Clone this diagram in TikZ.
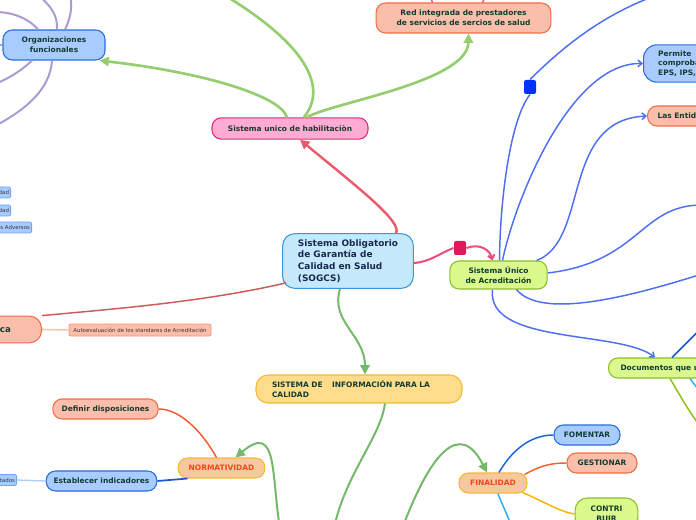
\documentclass[tikz,border=0pt]{standalone}
\usepackage{fontspec}
\setmainfont{DejaVu Sans}
\usetikzlibrary{arrows.meta,calc}

\tikzset{every picture/.style={line width=0.75pt}}
\tikzset{
  topic/.style={rounded corners=7pt, draw, line width=0.8pt, align=center, inner sep=1pt,
    font=\fontsize{5.6}{7.2}\selectfont\bfseries, text={rgb,255:red,18;green,60;blue,48}},
  leaf/.style={rounded corners=1.5pt, draw, line width=0.6pt, inner sep=1.2pt,
    font=\fontsize{4.1}{5}\selectfont, text={rgb,255:red,60;green,50;blue,50}},
  bluebox/.style={fill={rgb,255:red,168;green,204;blue,255}, draw={rgb,255:red,40;green,110;blue,220}},
  salmonbox/.style={fill={rgb,255:red,250;green,190;blue,170}, draw={rgb,255:red,240;green,110;blue,70}},
  pinkbox/.style={fill={rgb,255:red,255;green,172;blue,212}, draw={rgb,255:red,230;green,40;blue,120}},
  greenbox/.style={fill={rgb,255:red,218;green,248;blue,140}, draw={rgb,255:red,140;green,190;blue,40}},
  peachbox/.style={fill={rgb,255:red,246;green,200;blue,160}, draw={rgb,255:red,245;green,185;blue,50},
    text={rgb,255:red,240;green,70;blue,30}},
  yellowbox/.style={fill={rgb,255:red,253;green,220;blue,140}, draw={rgb,255:red,245;green,185;blue,50}},
  mainbox/.style={fill={rgb,255:red,197;green,232;blue,250}, draw={rgb,255:red,60;green,150;blue,215},
    font=\fontsize{6.7}{8.8}\selectfont\bfseries, text={rgb,255:red,25;green,40;blue,80}, rounded corners=9pt},
  blueleaf/.style={fill={rgb,255:red,168;green,204;blue,255}, draw={rgb,255:red,110;green,165;blue,245}},
  salmonleaf/.style={fill={rgb,255:red,250;green,190;blue,170}, draw={rgb,255:red,245;green,150;blue,120}},
  sq/.style={rounded corners=1.5pt, minimum width=9pt, minimum height=10.5pt, inner sep=0pt},
  glink/.style={draw={rgb,255:red,150;green,205;blue,110}, line width=2pt},
  ilink/.style={draw={rgb,255:red,115;green,185;blue,105}, line width=1.5pt},
  rlink/.style={draw={rgb,255:red,235;green,90;blue,105}, line width=1.8pt},
  plink/.style={draw={rgb,255:red,170;green,155;blue,210}, line width=1.5pt},
  pklink/.style={draw={rgb,255:red,235;green,75;blue,120}, line width=1.5pt},
  blink/.style={draw={rgb,255:red,77;green,110;blue,245}, line width=1.1pt},
  tri/.style={-{Triangle[length=7pt,width=7pt]}},
  barb/.style={-{Straight Barb[length=3pt,width=5pt]}}
}

\begin{document}
\begin{tikzpicture}[x=0.75pt,y=0.75pt,yscale=-1,xscale=1]
\useasboundingbox (0,0) rectangle (696,520);
\clip (0,0) rectangle (696,520);

% main topic and branches
\node [topic, mainbox, align=left, minimum width=98pt, minimum height=41pt] (sogcs) at (348,261) {Sistema Obligatorio\\de Garantía de\\Calidad en Salud\\(SOGCS)};
\node [topic, pinkbox, minimum width=117pt, minimum height=16pt] (habil) at (290,128.5) {Sistema unico de habilitaciòn};
\node [topic, bluebox, minimum width=76.5pt, minimum height=22.5pt] (orgs) at (54,45) {Organizaciones\\ funcionales};
\node [topic, salmonbox, minimum width=131pt, minimum height=22.5pt] (redint) at (463.5,18) {Red integrada de prestadores\\de servicios de sercios de salud};
\node [topic, greenbox, minimum width=73pt, minimum height=21pt] (acred) at (498.5,275) {Sistema Único\\de Acreditación};
\node [topic, bluebox, anchor=west, align=left, minimum height=28pt, rounded corners=10pt, inner xsep=11pt] (permite) at (643,63.5) {Permite\\comprobar\\EPS, IPS, EAPB};
\node [topic, salmonbox, anchor=west, minimum height=15pt, inner xsep=7.5pt] (entid) at (647,116) {Las Entidades};
\node [topic, greenbox, anchor=west, minimum height=15pt, inner xsep=9pt] (docs) at (608,368) {Documentos que utiliza};
\node [topic, salmonbox, anchor=east, minimum height=20pt, rounded corners=9pt, font=\fontsize{6.5}{8}\selectfont\bfseries, text width=63pt, align=left, inner xsep=3pt] (ruta) at (42,329.5) {Ruta Crítica};
\node [leaf, salmonleaf, minimum width=106.5pt, minimum height=9pt] (autoev) at (140,330) {Autoevaluación de los standares de Acreditación};
\node [leaf, blueleaf, anchor=east, minimum height=8.25pt] (oport) at (11,192.5) {Oportunidad};
\node [leaf, blueleaf, anchor=east, minimum height=8.25pt] (segur) at (11,210.5) {Seguridad};
\node [leaf, blueleaf, anchor=east, minimum height=8.25pt] (evadv) at (32,227.5) {Eventos Adversos};
\node [topic, yellowbox, align=left, text width=130.5pt, inner xsep=12pt, minimum height=21pt, rounded corners=9pt] (info) at (359,389) {SISTEMA DE\hspace{7pt}INFORMACIÓN PARA LA\\CALIDAD};
\node [topic, peachbox, minimum width=65pt, minimum height=15pt] (norm) at (221.5,468) {NORMATIVIDAD};
\node [topic, salmonbox, minimum width=79pt, minimum height=15pt] (definir) at (105.5,409) {Definir disposiciones};
\node [topic, bluebox, minimum width=83pt, minimum height=15pt] (estab) at (101.5,481) {Establecer indicadores};
\node [leaf, blueleaf, anchor=east, minimum height=8.25pt] (result) at (17,480) {Resultados};
\node [topic, peachbox, minimum width=51pt, minimum height=15pt] (fin) at (493,483) {FINALIDAD};
\node [topic, bluebox, minimum width=49.5pt, minimum height=15pt] (foment) at (587,435) {FOMENTAR};
\node [topic, salmonbox, minimum width=52.5pt, minimum height=15pt] (gestion) at (602,463) {GESTIONAR};
\node [topic, greenbox, minimum width=47pt, minimum height=24pt, rounded corners=9pt] (contrib) at (606.5,514) {CONTRI\\BUIR};

\node [sq, fill={rgb,255:red,225;green,25;blue,90}] (sqA) at (460,248) {};
\node [sq, fill={rgb,255:red,0;green,50;blue,255}] (sqB) at (530,87) {};

% free ends off the page
\coordinate (habtop) at (226,-4);
\coordinate (infosub) at (300,540);
\coordinate (acrtop) at (660,-6);
\coordinate (acrA) at (702,205);
\coordinate (acrB) at (702,274);

% sistema unico de habilitacion
\draw [rlink, tri] ($(sogcs.north)+(48,0)$) .. controls (403,222) and (356,186) .. ($(habil.south)+(10,0)$);
\draw [glink, tri] ($(habil.north)+(-3,0)$) .. controls (280,95) and (200,72) .. ($(orgs.south east)+(-6,0)$);
\draw [glink, tri] ($(habil.north)+(17,0)$) .. controls (330,103) and (468,82) .. ($(redint.south)+(5,0)$);
\draw [glink] ($(habil.north)+(14,0)$) .. controls (322,95) and (322,55) .. (habtop);
\draw [pklink, line width=1pt] ($(redint.north)+(-31,0)$) -- ++(-3,-8);
\draw [pklink, line width=1pt] ($(redint.north)+(19,0)$) -- ++(4,-8);

% organizaciones funcionales
\draw [plink] ($(orgs.north)+(-16,0)$) .. controls (30,20) and (15,12) .. (-5,12);
\draw [plink] ($(orgs.north)+(3,0)$) .. controls (58,15) and (50,5) .. (38,-5);
\draw [plink] ($(orgs.north)+(11,0)$) .. controls (72,15) and (72,5) .. (70,-5);
\draw [plink] (orgs.west) -- ++(-10,0);
\draw [plink] ($(orgs.south)+(-22,0)$) .. controls (22,70) and (10,78) .. (-5,84);
\draw [plink] ($(orgs.south)+(-2,0)$) .. controls (50,90) and (25,110) .. (-5,126);

% sistema unico de acreditacion
\draw [pklink] ($(sogcs.east)+(0,2)$) .. controls (430,262) and (440,253) .. (sqA.west);
\draw [pklink, barb] (sqA.east) .. controls (480,243) and (490,250) .. ($(acred.north)+(-6,0)$);
\draw [blink] ($(acred.north)+(1,0)$) .. controls (500,200) and (510,120) .. (sqB.south);
\draw [blink] (sqB.north) .. controls (560,50) and (600,15) .. (acrtop);
\draw [blink, barb] ($(acred.north)+(4,0)$) .. controls (515,200) and (570,62) .. (permite.west);
\draw [blink, barb] ($(acred.north east)+(-11,0)$) .. controls (590,240) and (560,120) .. (entid.west);
\draw [blink] ($(acred.east)+(0,-2)$) .. controls (640,262) and (640,205) .. (acrA);
\draw [blink] ($(acred.south)+(18,0)$) .. controls (540,318) and (620,300) .. (acrB);
\draw [blink, barb] ($(acred.south)+(-6,0)$) .. controls (486,345) and (620,330) .. ($(docs.north west)+(47,0)$);
\draw [draw={rgb,255:red,20;green,90;blue,210}, line width=1.1pt] ($(docs.north west)+(64,0)$) -- ++(30,-30);
\draw [draw={rgb,255:red,40;green,175;blue,240}, line width=1.1pt] ($(docs.south west)+(82,0)$) -- ++(15,20);
\draw [draw={rgb,255:red,140;green,190;blue,20}, line width=1.1pt] ($(docs.south west)+(62,0)$) .. controls (680,395) and (690,415) .. ++(40,60);

% ruta critica
\draw [draw={rgb,255:red,205;green,90;blue,90}, line width=1.1pt] ($(sogcs.south west)+(4,-6)$) .. controls (200,303) and (100,310) .. (ruta.north east);
\draw [draw={rgb,255:red,250;green,195;blue,175}, line width=1.1pt] (ruta.east) -- (autoev.west);

% sistema de informacion para la calidad
\draw [ilink, tri] ($(sogcs.south)+(-8,0)$) .. controls (330,322) and (365,335) .. ($(info.north)+(6,0)$);
\draw [ilink] ($(info.south)+(26,0)$) .. controls (380,440) and (340,480) .. ($(infosub)+(32,0)$);
\draw [ilink, tri] ($(infosub)+(-18,0)$) .. controls (270,480) and (280,420) .. ($(norm.north)+(14,0)$);
\draw [ilink, tri] ($(infosub)+(98,0)$) .. controls (430,450) and (460,420) .. ($(fin.north)+(-6,0)$);

% normatividad
\draw [draw={rgb,255:red,240;green,90;blue,50}, line width=1.1pt] ($(norm.north)+(-5,0)$) .. controls (200,428) and (178,409) .. (definir.east);
\draw [draw={rgb,255:red,25;green,90;blue,210}, line width=1.3pt] ($(norm.south west)+(10,0)$) -- (estab.east);
\draw [draw={rgb,255:red,175;green,205;blue,250}, line width=1pt] (estab.west) -- (result.east);

% finalidad
\draw [draw={rgb,255:red,25;green,100;blue,215}, line width=1.1pt] ($(fin.north)+(6,0)$) .. controls (515,445) and (535,435) .. (foment.west);
\draw [draw={rgb,255:red,245;green,95;blue,45}, line width=1.1pt] ($(fin.north east)+(-3,2)$) .. controls (540,466) and (550,463) .. (gestion.west);
\draw [draw={rgb,255:red,250;green,180;blue,0}, line width=1.1pt] ($(fin.south east)+(-5,-1)$) .. controls (545,502) and (560,512) .. (contrib.west);
\draw [draw={rgb,255:red,40;green,175;blue,240}, line width=1.1pt] ($(fin.south)+(5,0)$) .. controls (502,505) and (508,515) .. ++(16,40);

\end{tikzpicture}
\end{document}
